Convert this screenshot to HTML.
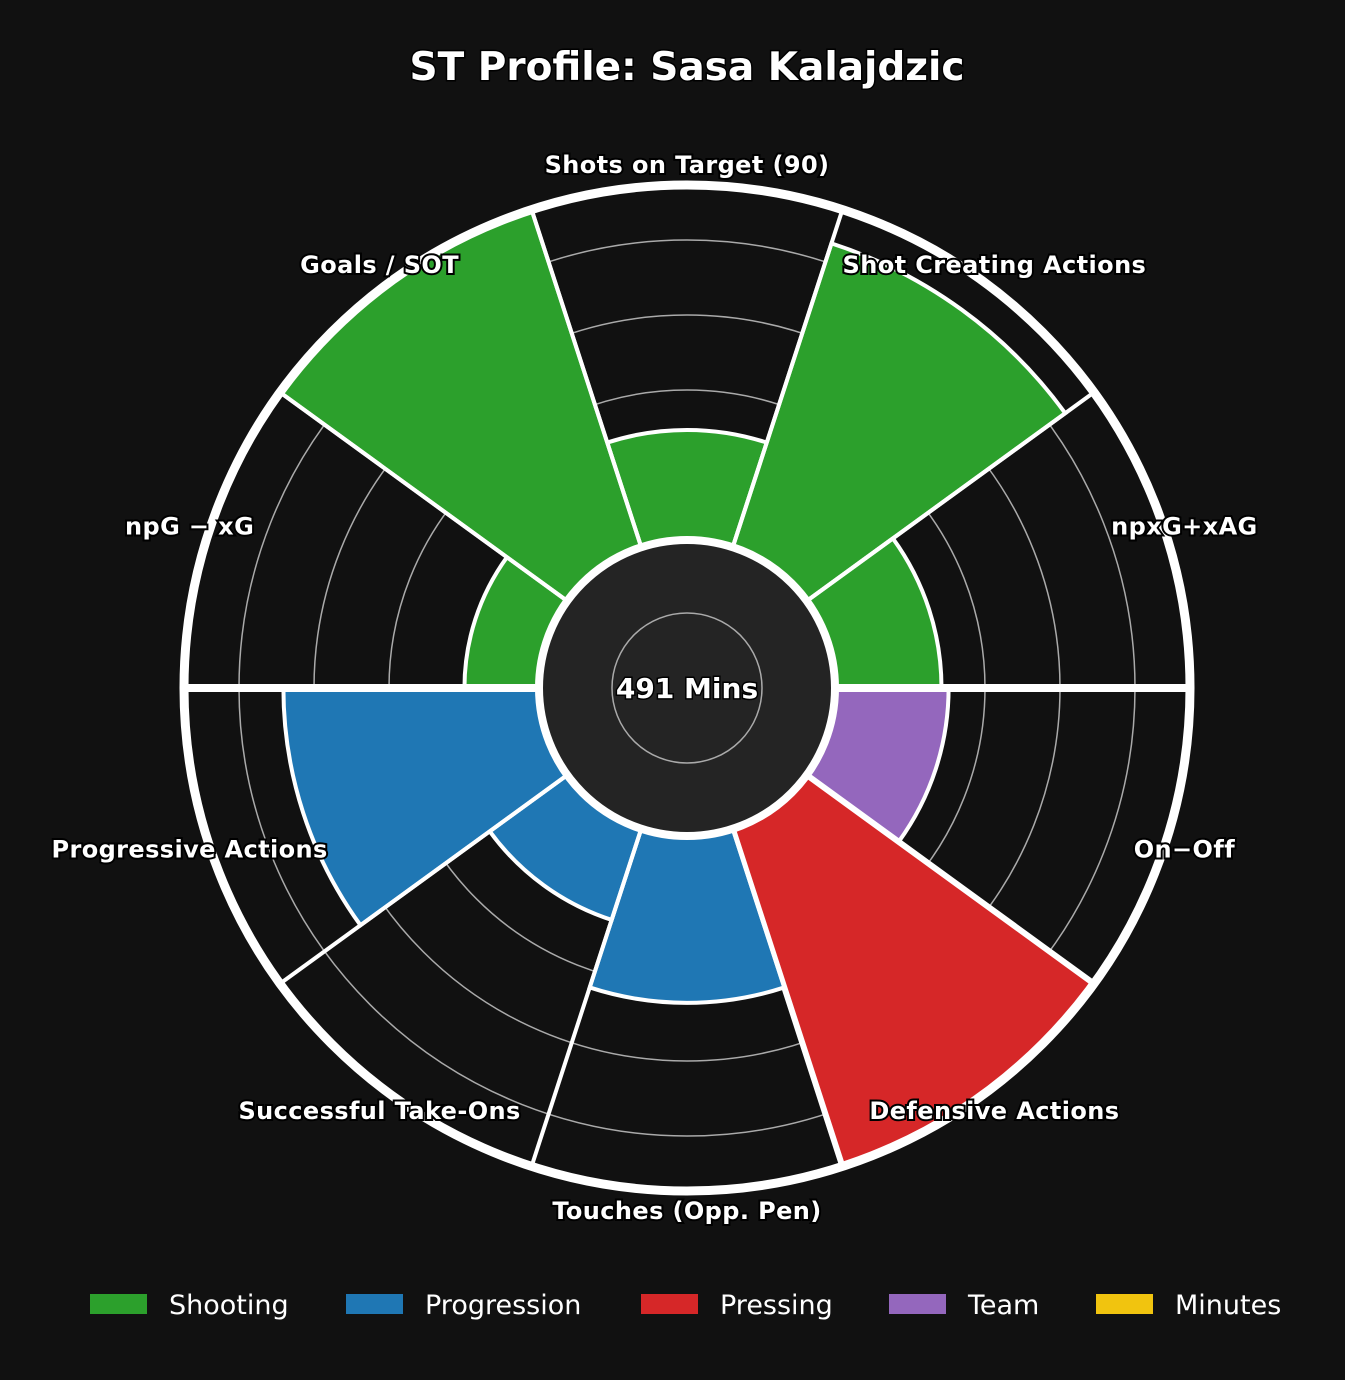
<!DOCTYPE html>
<html><head><meta charset="utf-8"><style>
html,body{margin:0;padding:0;background:#111111;}
svg{display:block;font-family:"DejaVu Sans","Liberation Sans",sans-serif;}
</style></head><body>
<svg id="chart" width="1345" height="1380" viewBox="0 0 1345 1380">
<rect width="1345" height="1380" fill="#111111"/>
<text x="687" y="80" text-anchor="middle" font-size="39" font-weight="bold" fill="#fff" stroke="#000" stroke-width="3" paint-order="stroke">ST Profile: Sasa Kalajdzic</text>
<g id="plot"></g>
<g id="legend"></g>
</svg>
<script>
const categories = ["Shots on Target (90)","Shot Creating Actions","npxG+xAG","On\u2212Off","Defensive Actions","Touches (Opp. Pen)","Successful Take-Ons","Progressive Actions","npG \u2212 xG","Goals / SOT"];
const values = [31, 90, 30, 32, 100, 47, 27, 72, 21, 100];
const groups = ["Shooting","Shooting","Shooting","Team","Pressing","Progression","Progression","Progression","Shooting","Shooting"];
const legendLabels = ["Shooting","Progression","Pressing","Team","Minutes"];
const legendColors = ["#2ca02c","#1f77b4","#d62728","#9467bd","#f1c40f"];
const minutesLabel = "491 Mins";

const NS="http://www.w3.org/2000/svg";
const cx=687, cy=688, R0=148, R=503;
const plot=document.getElementById('plot');
function rScale(v){return R0+v*(R-R0)/100;}
function ang(i){return 90-i*36;}
function pt(a,r){const t=a*Math.PI/180;return [cx+r*Math.cos(t), cy-r*Math.sin(t)];}
function mk(tag,attrs,parent){const e=document.createElementNS(NS,tag);for(const k in attrs)e.setAttribute(k,attrs[k]);(parent||plot).appendChild(e);return e;}
function sector(a1,a2,r1,r2){
  const p1=pt(a1,r2),p2=pt(a2,r2),p3=pt(a2,r1),p4=pt(a1,r1);
  return `M${p1[0]},${p1[1]} A${r2},${r2} 0 0 1 ${p2[0]},${p2[1]} L${p3[0]},${p3[1]} A${r1},${r1} 0 0 0 ${p4[0]},${p4[1]} Z`;
}
const bg=mk('circle',{cx,cy,r:R,fill:'#111111'});


[223,298,373,448].forEach(r=>{
  const c=mk('circle',{cx,cy,r,fill:'none',stroke:'#aaaaaa','stroke-width':1.5});
  
  
});
categories.forEach((c,i)=>{
  const a=ang(i), col=legendColors[legendLabels.indexOf(groups[i])];
  const p=mk('path',{d:sector(a+18,a-18,R0,rScale(values[i])),fill:col,stroke:'#fff','stroke-width':groups[i]==='Pressing'?6:4});
  
  
});
for(let i=0;i<10;i++){
  const a=ang(i)+18;const p1=pt(a,R0),p2=pt(a,R);
  const horiz=Math.abs(Math.sin(a*Math.PI/180))<0.01;
  const l=mk('line',{x1:p1[0],y1:p1[1],x2:p2[0],y2:p2[1],stroke:'#fff','stroke-width':horiz?8:4});
  
  
}
const outer=mk('circle',{cx,cy,r:R,fill:'none',stroke:'#fff','stroke-width':9});


const inner=mk('circle',{cx,cy,r:R0,fill:'#242424',stroke:'#fff','stroke-width':8});


const ig=mk('circle',{cx,cy,r:75,fill:'none',stroke:'#aaaaaa','stroke-width':1.5});


const mt=mk('text',{x:cx,y:cy+10,'text-anchor':'middle','font-size':28,'font-weight':'bold',fill:'#fff',stroke:'#000','stroke-width':3,'paint-order':'stroke'});
mt.textContent=minutesLabel;


categories.forEach((c,i)=>{
  const p=pt(ang(i),523);
  const t=mk('text',{x:p[0],y:p[1]+8,'text-anchor':'middle','font-size':24,'letter-spacing':0.4,'font-weight':'bold',fill:'#fff',stroke:'#000','stroke-width':4,'paint-order':'stroke'});
  t.textContent=c;
  
  
});
const lg=document.getElementById('legend');
const lx=[90,346,641,889,1096];
legendLabels.forEach((l,i)=>{
  const r=mk('rect',{x:lx[i],y:1294,width:57,height:20,fill:legendColors[i]},lg);
  
  
  const t=mk('text',{x:lx[i]+79,y:1314,'font-size':27,fill:'#fff'},lg);
  t.textContent=l;
  
  
});
</script>
</body></html>
